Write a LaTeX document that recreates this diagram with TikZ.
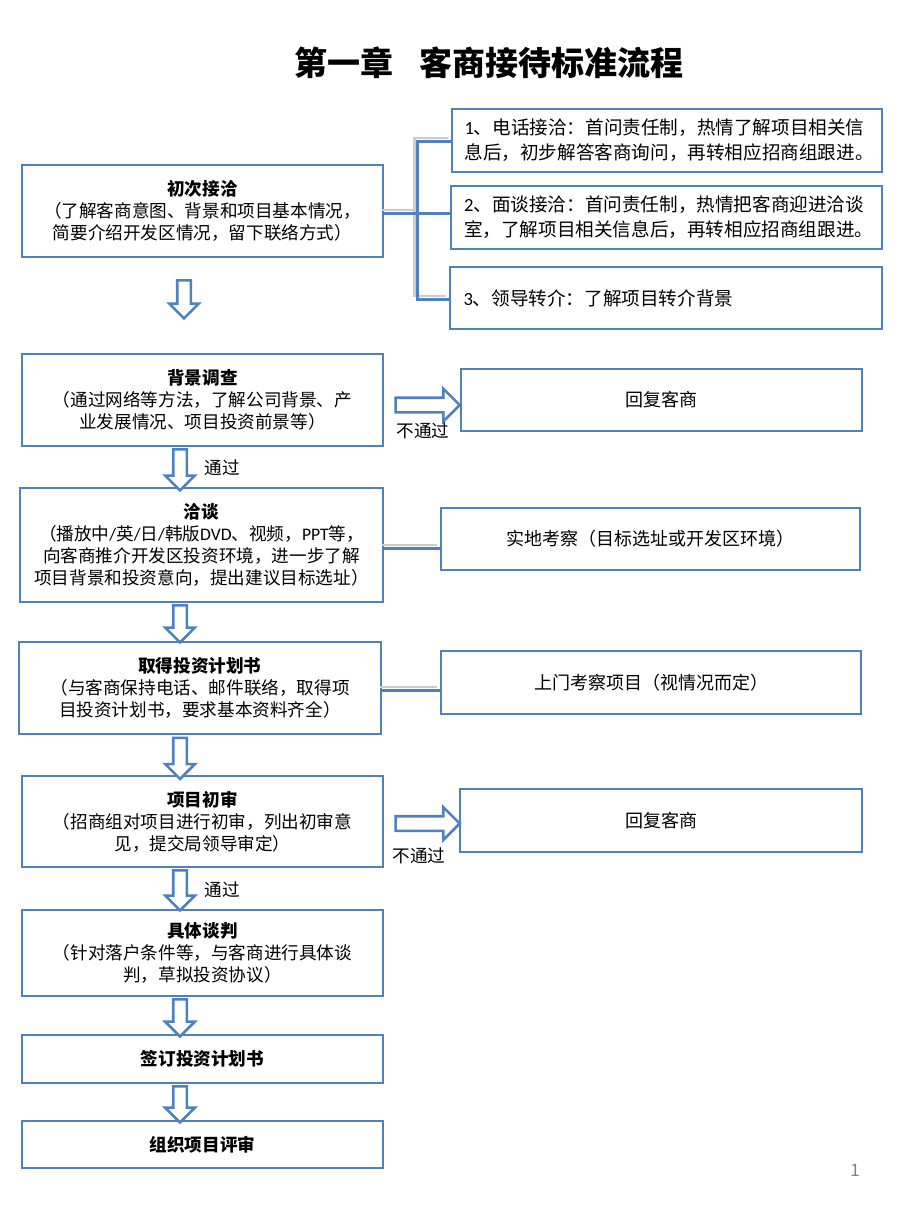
\documentclass[tikz,border=0pt]{standalone}
\usepackage{fontspec}
\setmainfont{Noto Sans CJK SC}
\newfontfamily\latin{Carlito}
\usetikzlibrary{shapes.arrows}
\definecolor{boxblue}{RGB}{79,129,189}
\tikzset{
  box/.style={draw=boxblue, line width=2.6pt, rectangle, minimum width=361pt,
    align=center, inner sep=2pt, font=\fontsize{17.6}{22.2}\selectfont},
  sidebox/.style={draw=boxblue, line width=2.6pt, rectangle, minimum height=63pt,
    inner sep=2pt, font=\fontsize{18}{25}\selectfont},
  joinline/.style={draw=boxblue, line width=3pt},
  joinshade/.style={draw=gray!40, line width=2.6pt, transform canvas={xshift=-2.5pt, yshift=3pt}},
  hollow/.style={single arrow, draw=boxblue, fill=white, line width=2.6pt,
    inner xsep=0pt, minimum width=0pt, single arrow tip angle=90},
  downarrow/.style={hollow, rotate=-90, inner ysep=5.5pt, single arrow head extend=8pt},
  rightarrow/.style={hollow, inner ysep=6pt, single arrow head extend=9pt, minimum height=64pt},
  passlabel/.style={font=\fontsize{17.6}{20}\selectfont, inner sep=0pt}
}
\begin{document}
\begin{tikzpicture}[x=1pt, y=-1pt]
  \useasboundingbox (0,0) rectangle (920,1227);

  \node[font=\fontsize{33}{36}\selectfont\bfseries] (title) at (489,63) {第一章\hspace{0.8em}客商接待标准流程};

  % main column
  \node[box, minimum height=92pt] (b1) at (202.5,211)
    {\textbf{初次接洽}\\（了解客商意图、背景和项目基本情况，\\简要介绍开发区情况，留下联络方式）};
  \node[box, minimum height=92pt] (b2) at (202.5,400)
    {\textbf{背景调查}\\（通过网络等方法，了解公司背景、产\\业发展情况、项目投资前景等）};
  \node[box, minimum width=363pt, minimum height=114pt] (b3) at (201.5,545)
    {\textbf{洽谈}\\（播放中{\latin/}英{\latin/}日{\latin/}韩版{\latin DVD}、视频，{\latin PPT}等，\\向客商推介开发区投资环境，进一步了解\\项目背景和投资意向，提出建议目标选址）};
  \node[box, minimum width=362pt, minimum height=92pt] (b4) at (200,688)
    {\textbf{取得投资计划书}\\（与客商保持电话、邮件联络，取得项\\目投资计划书，要求基本资料齐全）};
  \node[box, minimum height=91pt] (b5) at (202.5,821.5)
    {\textbf{项目初审}\\（招商组对项目进行初审，列出初审意\\见，提交局领导审定）};
  \node[box, minimum height=86pt] (b6) at (202.5,953)
    {\textbf{具体谈判}\\（针对落户条件等，与客商进行具体谈\\判，草拟投资协议）};
  \node[box, minimum height=48pt] (b7) at (202.5,1059) {\textbf{签订投资计划书}};
  \node[box, minimum height=47pt] (b8) at (202.5,1144.5) {\textbf{组织项目评审}};

  % side column
  \node[sidebox, minimum width=430pt, text width=405pt, align=left, font=\fontsize{18.6}{25}\selectfont] (r1) at (667,140.5)
    {{\latin 1}、电话接洽：首问责任制，热情了解项目相关信\\息后，初步解答客商询问，再转相应招商组跟进。};
  \node[sidebox, minimum width=431pt, text width=405pt, align=left, font=\fontsize{18.6}{25}\selectfont] (r2) at (666.5,217.5)
    {{\latin 2}、面谈接洽：首问责任制，热情把客商迎进洽谈\\室，了解项目相关信息后，再转相应招商组跟进。};
  \node[sidebox, minimum width=432pt, minimum height=62pt, text width=405pt, align=left, font=\fontsize{18.6}{25}\selectfont] (r3) at (666,298)
    {{\latin 3}、领导转介：了解项目转介背景};
  \node[sidebox, minimum width=401pt, minimum height=62pt] (n1) at (661.5,400) {回复客商};
  \node[sidebox, minimum width=419pt, minimum height=62pt] (s1) at (650.5,539) {实地考察（目标选址或开发区环境）};
  \node[sidebox, minimum width=420pt] (s2) at (651,682.5) {上门考察项目（视情况而定）};
  \node[sidebox, minimum width=402pt] (n2) at (661,820.5) {回复客商};

  % bracket from the first box
  \coordinate (j) at (417,213);
  \draw[joinshade] (b1.east |- j) -- (j);
  \draw[joinshade] (r1.west |- 0,141) -| (j) |- (r3.west |- 0,299);
  \draw[joinline] (b1.east |- j) -- (j);
  \draw[joinline] (r1.west |- 0,141) -| (j) |- (r3.west |- 0,299);
  \draw[joinline] (j) -- (r2.west |- j);

  % plain links
  \draw[joinshade] (b3.east |- 0,548) -- (s1.west |- 0,548);
  \draw[joinline] (b3.east |- 0,548) -- (s1.west |- 0,548);
  \draw[joinshade] (b4.east |- 0,690) -- (s2.west |- 0,690);
  \draw[joinline] (b4.east |- 0,690) -- (s2.west |- 0,690);

  % hollow arrows
  \node[downarrow, minimum height=38pt] (d1) at (184,296) {};
  \foreach \y/\h [count=\i from 2] in {466.5/41, 620.5/37, 755/41, 887/40, 1014.5/37, 1101/36}
    \node[downarrow, minimum height=\h pt] (d\i) at (180,\y) {};
  \node[rightarrow] (a1) at (424,405) {};
  \node[rightarrow] (a2) at (424,823.5) {};

  \node[passlabel] (p1) at (222,468) {通过};
  \node[passlabel] (p2) at (222,890) {通过};
  \node[passlabel] (f1) at (423,431) {不通过};
  \node[passlabel] (f2) at (419,856) {不通过};

  \node[font=\fontsize{17}{19}\selectfont\rmfamily, text=gray] (page) at (855,1170) {1};
\end{tikzpicture}
\end{document}
